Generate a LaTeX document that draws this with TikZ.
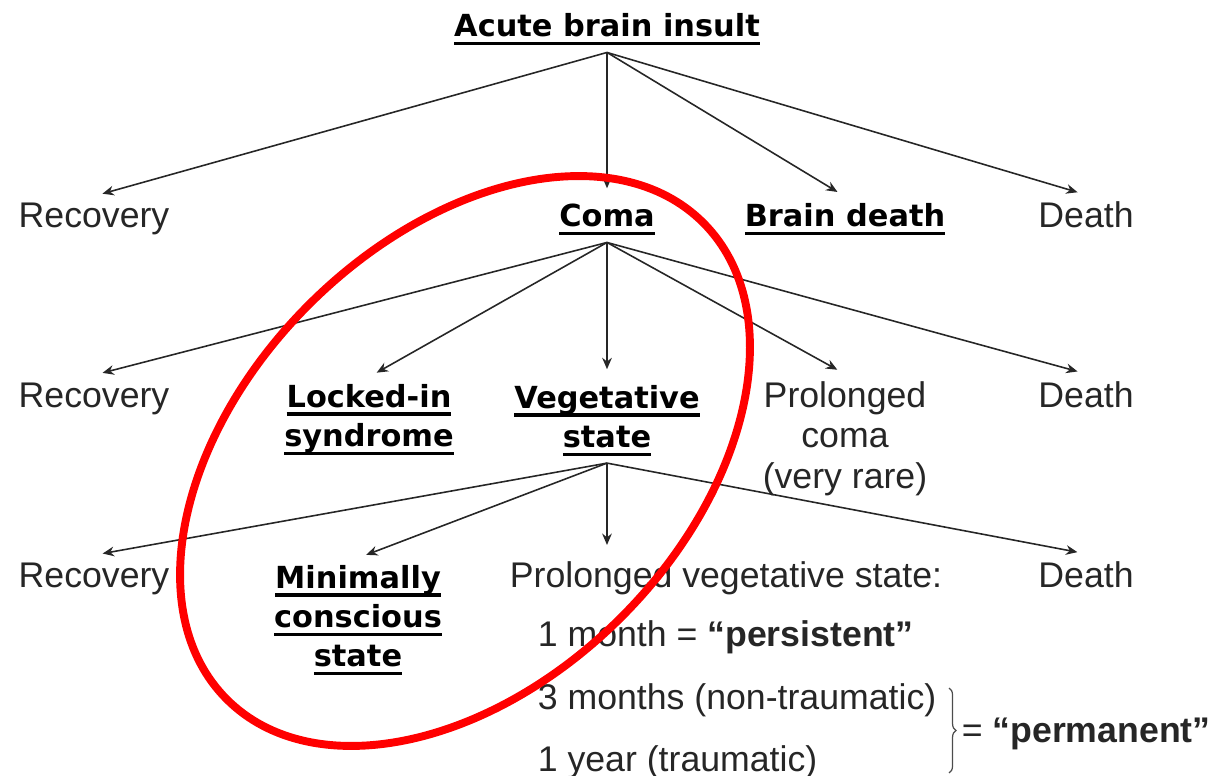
\documentclass[tikz,border=0pt]{standalone}
\usepackage{fontspec}
\setmainfont{Liberation Sans}
\newfontfamily\keyfam{DejaVu Sans}
\usepackage{tikz}
\usetikzlibrary{arrows.meta,calc,positioning,decorations.pathreplacing}
\newcommand\ulkey[1]{\setbox0\hbox{#1}\rlap{\rule[-4.6pt]{\wd0}{1.8pt}}\box0}

\begin{document}
\begin{tikzpicture}[x=0.02cm,y=-0.02cm,
  key/.style={font=\keyfam\bfseries\fontsize{17.3}{22.3}\selectfont, align=center, inner xsep=2pt, inner ysep=4pt},
  plain/.style={font=\fontsize{20.3}{23}\selectfont, text=black!85, align=center, inner xsep=2pt, inner ysep=4pt},
  arr/.style={-{Stealth[length=6.5pt,width=5.5pt]}, line width=0.9pt, black!85, shorten >=5pt}]
\useasboundingbox (0,0) rectangle (1219,776);
% top
\node[key,anchor=base] (insult) at (607,37) {\ulkey{Acute brain insult}};
% first row
\node[plain,anchor=base] (rec1) at (94,228) {Recovery};
\node[key,anchor=base] (coma) at (607,227) {\ulkey{Coma}};
\node[key,anchor=base] (bdeath) at (845,227) {\ulkey{Brain death}};
\node[plain,anchor=base] (death1) at (1086,228) {Death};
% second row
\node[plain,anchor=base] (rec2) at (94,407) {Recovery};
\node[key,anchor=north] (lis) at (369,377) {\ulkey{Locked-in}\\\ulkey{syndrome}};
\node[key,anchor=north] (vs) at (607,378) {\ulkey{Vegetative}\\\ulkey{state}};
\node[plain,anchor=north] (pcoma) at (845,374) {Prolonged\\coma\\(very rare)};
\node[plain,anchor=base] (death2) at (1086,407) {Death};
% third row
\node[plain,anchor=base] (rec3) at (94,587) {Recovery};
\node[key,anchor=north] (mcs) at (358,558) {\ulkey{Minimally}\\\ulkey{conscious}\\\ulkey{state}};
\node[plain,anchor=base west] (pvs) at (506,587) {Prolonged vegetative state:};
\node[plain,anchor=base] (death3) at (1086,587) {Death};
\node[plain,anchor=base west] (month1) at (534,646) {1 month = \textbf{``persistent''}};
\node[plain,anchor=base west] (month3) at (534,709) {3 months (non-traumatic)};
\node[plain,anchor=base west] (year1) at (534,771) {1 year (traumatic)};
\coordinate (btop) at (949,688);
\coordinate (bbot) at (949,773);
\draw[decorate,decoration={brace,amplitude=4pt},line width=0.7pt,black!70] (btop) -- (bbot);
\node[plain,anchor=base west] (perm) at (958,742) {= \textbf{``permanent''}};
% arrows
\foreach \t in {rec1,coma,bdeath,death1}{\draw[arr] (insult.south) -- (\t.north);}
\foreach \t in {rec2,lis,vs,pcoma,death2}{\draw[arr] (coma.south) -- (\t.north);}
\foreach \t in {rec3,mcs,death3}{\draw[arr] (vs.south) -- (\t.north);}
\draw[arr] (vs.south) -- (vs.south |- pvs.north);
% highlight
\draw[red,line width=4.5pt,rotate around={45:(465,461)}] (465,461) ellipse [x radius=6.74cm, y radius=4.42cm];
\end{tikzpicture}
\end{document}
